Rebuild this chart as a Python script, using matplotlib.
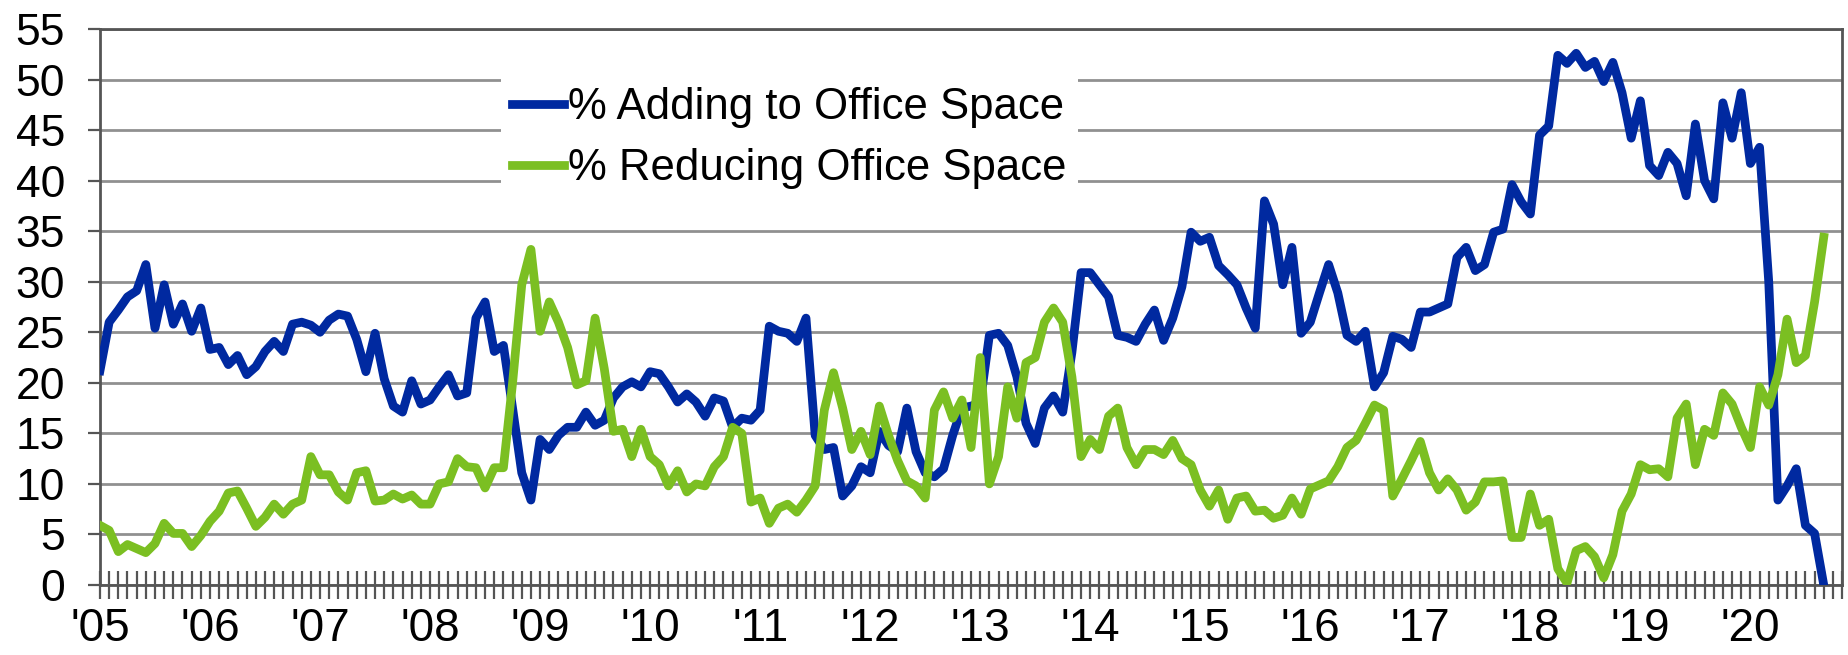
import numpy as np
import matplotlib.pyplot as plt

plt.rcParams['font.family'] = ['Liberation Sans', 'DejaVu Sans']

# monthly survey readings, Jan 2005 .. Sep 2020
year_labels = ["'05", "'06", "'07", "'08", "'09", "'10", "'11", "'12",
               "'13", "'14", "'15", "'16", "'17", "'18", "'19", "'20"]

adding = [21.2, 26.0, 27.2, 28.5, 29.1, 31.7, 25.4, 29.7, 25.8, 27.8, 25.1, 27.4,
          23.3, 23.5, 21.8, 22.7, 20.8, 21.6, 23.1, 24.1, 23.1, 25.8, 26.0, 25.7,
          25.0, 26.2, 26.8, 26.6, 24.3, 21.1, 24.9, 20.4, 17.7, 17.1, 20.2, 17.9,
          18.3, 19.6, 20.8, 18.7, 19.0, 26.4, 28.0, 23.1, 23.7, 17.5, 11.1, 8.4,
          14.4, 13.4, 14.8, 15.6, 15.6, 17.1, 15.8, 16.3, 18.5, 19.6, 20.1, 19.6,
          21.1, 20.9, 19.6, 18.1, 18.9, 18.1, 16.7, 18.5, 18.2, 15.6, 16.5, 16.3,
          17.3, 25.6, 25.1, 24.9, 24.1, 26.4, 14.8, 13.4, 13.6, 8.8, 9.8, 11.7,
          11.1, 15.2, 13.8, 13.2, 17.5, 13.2, 11.1, 10.7, 11.5, 14.8, 17.5, 17.7,
          18.0, 24.7, 24.9, 23.7, 20.6, 16.0, 14.0, 17.5, 18.7, 17.1, 23.0, 30.9,
          30.9, 29.7, 28.5, 24.7, 24.5, 24.1, 25.8, 27.2, 24.2, 26.4, 29.5, 34.9,
          34.0, 34.4, 31.6, 30.7, 29.7, 27.4, 25.4, 38.0, 35.7, 29.7, 33.4, 24.9,
          26.0, 28.9, 31.7, 28.9, 24.7, 24.1, 25.1, 19.6, 21.0, 24.6, 24.3, 23.5,
          27.0, 27.0, 27.4, 27.8, 32.4, 33.4, 31.1, 31.7, 34.9, 35.2, 39.6, 37.9,
          36.7, 44.5, 45.4, 52.4, 51.6, 52.6, 51.2, 51.8, 49.8, 51.7, 48.7, 44.2,
          47.9, 41.5, 40.5, 42.8, 41.7, 38.5, 45.6, 40.0, 38.2, 47.7, 44.2, 48.7,
          41.7, 43.3, 30.0, 8.4, 9.8, 11.5, 5.9, 5.1, 0.0]

reducing = [5.9, 5.4, 3.3, 4.0, 3.6, 3.2, 4.1, 6.1, 5.1, 5.1, 3.8, 4.9,
            6.3, 7.3, 9.1, 9.3, 7.6, 5.8, 6.7, 8.0, 7.0, 8.0, 8.4, 12.7,
            10.9, 10.9, 9.2, 8.4, 11.1, 11.3, 8.3, 8.4, 9.0, 8.5, 8.9, 8.0,
            8.0, 10.0, 10.2, 12.5, 11.7, 11.6, 9.6, 11.6, 11.6, 20.0, 29.7, 33.2,
            25.1, 28.0, 26.0, 23.5, 19.8, 20.2, 26.4, 21.4, 15.2, 15.4, 12.7, 15.4,
            12.7, 11.9, 9.8, 11.3, 9.2, 10.0, 9.8, 11.7, 12.7, 15.6, 15.0, 8.2,
            8.6, 6.1, 7.6, 8.0, 7.2, 8.4, 9.8, 17.3, 21.0, 17.5, 13.4, 15.2,
            12.9, 17.7, 14.8, 12.3, 10.3, 9.8, 8.6, 17.3, 19.1, 16.5, 18.3, 13.6,
            22.5, 10.0, 12.7, 19.6, 16.5, 22.0, 22.5, 26.0, 27.4, 26.0, 20.6, 12.7,
            14.4, 13.4, 16.7, 17.5, 13.6, 11.9, 13.4, 13.4, 12.9, 14.3, 12.5, 11.9,
            9.4, 7.8, 9.4, 6.5, 8.6, 8.8, 7.3, 7.4, 6.6, 6.9, 8.6, 7.0,
            9.5, 9.9, 10.3, 11.7, 13.6, 14.3, 16.0, 17.8, 17.3, 8.8, 10.5, 12.3,
            14.2, 11.1, 9.4, 10.5, 9.4, 7.4, 8.2, 10.2, 10.2, 10.3, 4.7, 4.7,
            9.0, 5.9, 6.5, 1.6, 0.2, 3.4, 3.8, 2.8, 0.7, 3.0, 7.3, 9.0,
            11.9, 11.4, 11.5, 10.7, 16.5, 17.9, 11.9, 15.4, 14.8, 19.0, 17.9, 15.6,
            13.6, 19.6, 17.8, 20.8, 26.3, 22.0, 22.7, 28.0, 34.4]

axis_gray = '#555555'

fig = plt.figure(figsize=(18.48, 6.55), dpi=100)
ax = fig.add_axes([0.0541, 0.1069, 0.9427, 0.8488])

x = np.arange(len(adding))
ax.plot(x, adding, color='#0029A0', lw=6.3, solid_joinstyle='round',
        label='% Adding to Office Space', zorder=3)
ax.plot(x, reducing, color='#7BBF22', lw=6.3, solid_joinstyle='round',
        label='% Reducing Office Space', zorder=4)

ax.set_xlim(0, 190)
ax.set_ylim(0, 55)
ax.set_yticks(range(0, 56, 5))
ax.set_xticks(np.arange(0, 12 * len(year_labels), 12))
ax.set_xticklabels(year_labels)
ax.set_xticks(np.arange(0, 191), minor=True)

ax.set_axisbelow(True)
ax.grid(axis='y', color='#909090', lw=2)

for s in ax.spines.values():
    s.set_color(axis_gray)
    s.set_linewidth(2)

ax.tick_params(axis='x', which='both', direction='inout', length=20,
               width=1.6, color=axis_gray)
ax.tick_params(axis='x', which='major', labelsize=33, pad=6)
ax.tick_params(axis='y', direction='out', length=9, width=1.6,
               color=axis_gray, labelsize=32, pad=16)

leg = ax.legend(loc='upper left', bbox_to_anchor=(0.23, 0.915), fontsize=31.5,
                frameon=True, facecolor='white', edgecolor='none', framealpha=1,
                fancybox=False, handlelength=1.2, handletextpad=0.1,
                labelspacing=0.45, borderpad=0.25, borderaxespad=0)

fig.savefig('out.png', dpi=100)
